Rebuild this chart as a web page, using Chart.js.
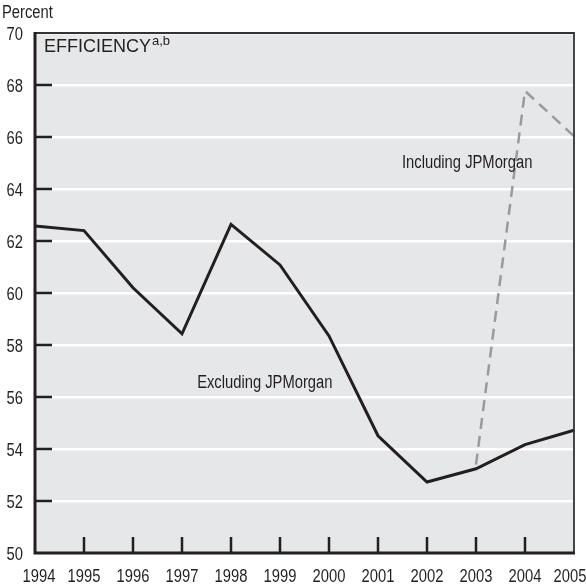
<!DOCTYPE html>
<html>
<head>
<meta charset="utf-8">
<script src="https://cdn.jsdelivr.net/npm/chart.js@4"></script>
<style>
  html, body { margin: 0; padding: 0; background: #fff; }
  #wrap { width: 586px; height: 586px; }
</style>
</head>
<body>
<div id="wrap"><canvas id="effChart" width="586" height="586"></canvas></div>
<script>
const years = ["1994", "1995", "1996", "1997", "1998", "1999", "2000", "2001", "2002", "2003", "2004", "2005"];
const excludingJPM = [62.58, 62.4, 60.2, 58.43, 62.64, 61.08, 58.35, 54.51, 52.73, 53.24, 54.17, 54.72];
const includingJPM = [null, null, null, null, null, null, null, null, null, 53.4, 67.77, 66.03];
const yTicks = [50, 52, 54, 56, 58, 60, 62, 64, 66, 68, 70];

const REG = "'Liberation Sans', Arial, sans-serif";
const INK = "#231f20";

// Helvetica-narrow look: squeeze Liberation Sans horizontally
const narrowText = (ctx, text, x, y, align = "left", size = 18) => {
  ctx.save();
  ctx.translate(x, y);
  ctx.scale(0.82, 1);
  ctx.font = size + "px " + REG;
  ctx.textAlign = align;
  ctx.fillText(text, 0, 0);
  ctx.restore();
};

// grey panel behind the plot
const panelBg = {
  id: "panelBg",
  beforeDraw(chart) {
    const { ctx, chartArea: a } = chart;
    ctx.save();
    ctx.fillStyle = "#e6e7e9";
    ctx.fillRect(a.left, a.top, a.right - a.left, a.bottom - a.top);
    ctx.restore();
  }
};

// frame, inside tick marks, labels and text notes
const decorations = {
  id: "decorations",
  afterDraw(chart) {
    const { ctx, chartArea: a, scales } = chart;
    const x = scales.x, y = scales.y;
    ctx.save();

    // tick marks inside the panel
    ctx.strokeStyle = INK;
    ctx.lineWidth = 2.5;
    ctx.beginPath();
    yTicks.slice(1, -1).forEach((v) => {
      const py = y.getPixelForValue(v);
      ctx.moveTo(a.left, py);
      ctx.lineTo(a.left + 17, py);
    });
    years.slice(1, -1).forEach((_, i) => {
      const px = x.getPixelForValue(i + 1);
      ctx.moveTo(px, a.bottom);
      ctx.lineTo(px, a.bottom - 16);
    });
    ctx.stroke();

    // frame: thin top/right, heavy left/bottom
    ctx.lineWidth = 1.8;
    ctx.strokeStyle = "#333";
    ctx.beginPath();
    ctx.moveTo(a.left, a.top);
    ctx.lineTo(a.right, a.top);
    ctx.lineTo(a.right, a.bottom);
    ctx.stroke();
    ctx.lineWidth = 3;
    ctx.strokeStyle = INK;
    ctx.beginPath();
    ctx.moveTo(a.left, a.top - 1);
    ctx.lineTo(a.left, a.bottom);
    ctx.lineTo(a.right + 1, a.bottom);
    ctx.stroke();

    ctx.fillStyle = INK;
    ctx.textBaseline = "alphabetic";

    // y labels
    yTicks.forEach((v) => {
      narrowText(ctx, String(v), a.left - 12, y.getPixelForValue(v) + 6.5, "right");
    });

    // x labels (ends pulled in a little, as in the print)
    years.forEach((lab, i) => {
      const px = Math.min(Math.max(x.getPixelForValue(i), a.left + 4), a.right - 4);
      narrowText(ctx, lab, px, a.bottom + 29, "center");
    });

    // unit label
    narrowText(ctx, "Percent", 2, 18, "left");

    // panel title
    ctx.font = "18px " + REG;
    ctx.textAlign = "left";
    ctx.fillText("EFFICIENCY", a.left + 9, a.top + 19);
    const w = ctx.measureText("EFFICIENCY").width;
    ctx.font = "13px " + REG;
    ctx.fillText("a,b", a.left + 10 + w, a.top + 12);

    // series notes
    ctx.textBaseline = "middle";
    narrowText(ctx, "Including JPMorgan", x.getPixelForValue(8.82), y.getPixelForValue(65.0), "center");
    narrowText(ctx, "Excluding JPMorgan", x.getPixelForValue(4.69), y.getPixelForValue(56.54), "center");

    ctx.restore();
  }
};

new Chart(document.getElementById("effChart"), {
  type: "line",
  data: {
    labels: years,
    datasets: [
      {
        label: "Excluding JPMorgan",
        data: excludingJPM,
        borderColor: INK,
        borderWidth: 3,
        pointRadius: 0,
        tension: 0,
        order: 1
      },
      {
        label: "Including JPMorgan",
        data: includingJPM,
        borderColor: "#9a9a9c",
        borderWidth: 2.5,
        borderDash: [11, 7],
        pointRadius: 0,
        tension: 0,
        spanGaps: false,
        order: 2
      }
    ]
  },
  options: {
    responsive: false,
    animation: false,
    layout: { padding: { top: 33, right: 12, left: 0, bottom: 0 } },
    plugins: { legend: { display: false }, tooltip: { enabled: false } },
    scales: {
      x: {
        offset: false,
        grid: { display: false, drawTicks: false },
        border: { display: false },
        ticks: { display: false },
        afterFit: (s) => { s.height = 33; }
      },
      y: {
        min: 50,
        max: 70,
        afterBuildTicks: (s) => { s.ticks = yTicks.map((v) => ({ value: v })); },
        grid: { color: "#ffffff", lineWidth: 2.5, drawTicks: false },
        border: { display: false },
        ticks: { display: false },
        afterFit: (s) => { s.width = 35; }
      }
    }
  },
  plugins: [panelBg, decorations]
});
</script>
</body>
</html>
